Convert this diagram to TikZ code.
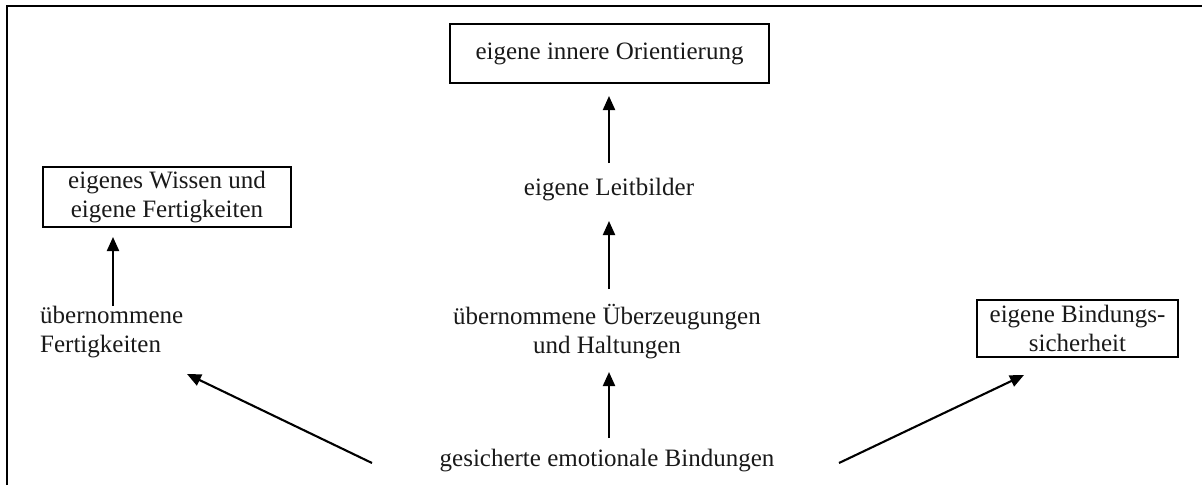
\documentclass[tikz,border=0pt]{standalone}
\usepackage{fontspec}
\setmainfont{Liberation Serif}
\usetikzlibrary{arrows.meta}
\begin{document}
\begin{tikzpicture}[x=1pt,y=-1pt,
  every node/.style={font=\fontsize{25}{29}\selectfont, inner sep=0pt, align=center, text=black!90},
  boxnode/.style={draw=black, line width=2.2pt},
  conn/.style={line width=2.1pt, -{Triangle[length=14pt,width=12pt]}},
  frameline/.style={line width=2.2pt}
]
\useasboundingbox (0,0) rectangle (1202,485);
% outer frame (left and top)
\coordinate (fbl) at (7,485);
\coordinate (ftl) at (7,6);
\coordinate (ftr) at (1202,6);
\draw[frameline] (fbl) -- (ftl) -- (ftr);

% nodes
\node[boxnode, minimum width=319pt, minimum height=59pt] (orient) at (609.5,53.5) {eigene innere Orientierung};
\node (leit) at (609,190) {eigene Leitbilder};
\node (ueber) at (607,332) {übernommene Überzeugungen\\und Haltungen};
\node (bind) at (607,461) {gesicherte emotionale Bindungen};
\node[boxnode, minimum width=248pt, minimum height=60pt] (wissen) at (167,197) {eigenes Wissen und\\eigene Fertigkeiten};
\node[anchor=west, align=left] (fert) at (40,332) {übernommene\\Fertigkeiten};
\node[boxnode, minimum width=201pt, minimum height=57pt] (sicher) at (1077.5,328.5) {eigene Bindungs-\\sicherheit};

% connector end points
\coordinate (a1s) at (609,163); \coordinate (a1e) at (609,96);
\coordinate (a2s) at (609,289); \coordinate (a2e) at (609,221);
\coordinate (a3s) at (609,438); \coordinate (a3e) at (609,372);
\coordinate (a4s) at (113,306); \coordinate (a4e) at (113,237);
\coordinate (a5s) at (372,463); \coordinate (a5e) at (187,374);
\coordinate (a6s) at (839,463); \coordinate (a6e) at (1024,375);

\draw[conn] (a1s) -- (a1e);
\draw[conn] (a2s) -- (a2e);
\draw[conn] (a3s) -- (a3e);
\draw[conn] (a4s) -- (a4e);
\draw[conn] (a5s) -- (a5e);
\draw[conn] (a6s) -- (a6e);
\end{tikzpicture}
\end{document}
